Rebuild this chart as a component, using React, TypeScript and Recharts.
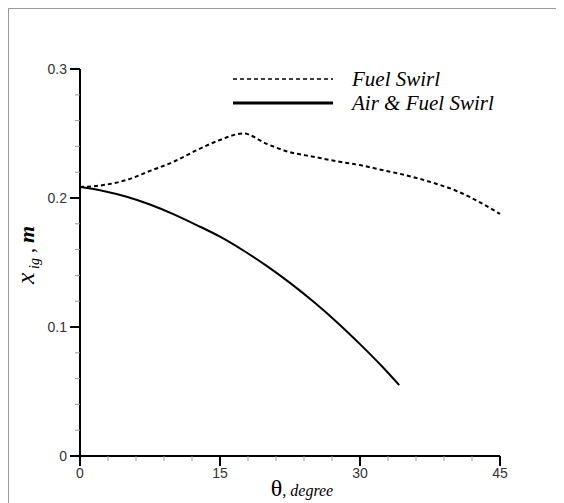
import React from "react";
import { LineChart, Line, XAxis, YAxis, Legend } from "recharts";

// values
const fuelTheta = [0, 2.5, 5, 7.5, 10, 12.5, 15, 17.5, 20, 22.5, 25, 27.5, 30, 32.5, 35, 37.5, 40, 42.5, 45];
const fuelXig = [0.2085, 0.21, 0.214, 0.221, 0.228, 0.237, 0.245, 0.25, 0.242, 0.2355, 0.232, 0.2285, 0.2255, 0.2215, 0.2175, 0.2125, 0.2065, 0.198, 0.1876];

const airTheta = [0, 2.5, 5, 7.5, 10, 12.5, 15, 17.5, 20, 22.5, 25, 27.5, 30, 32.5, 34.2];
const airXig = [0.2085, 0.2055, 0.201, 0.195, 0.1875, 0.179, 0.17, 0.1593, 0.1474, 0.1342, 0.1197, 0.1039, 0.0867, 0.0684, 0.055];

const xTicks = [0, 3, 6, 9, 12, 15, 18, 21, 24, 27, 30, 33, 36, 39, 42, 45];
const xMajor = [0, 15, 30, 45];
const yTicks = [0, 0.02, 0.04, 0.06, 0.08, 0.1, 0.12, 0.14, 0.16, 0.18, 0.2, 0.22, 0.24, 0.26, 0.28, 0.3];
const yMajor = [0, 0.1, 0.2, 0.3];

const seriesNames = ["Fuel Swirl", "Air & Fuel Swirl"];

const fuelData = fuelTheta.map((t, i) => ({ theta: t, xig: fuelXig[i] }));
const airData = airTheta.map((t, i) => ({ theta: t, xig: airXig[i] }));

const SANS = "'Liberation Sans', Arial, sans-serif";
const SERIF = "'Liberation Serif', 'Times New Roman', serif";

const isMajor = (list: number[], v: number) => list.some((m) => Math.abs(m - v) < 1e-9);

const XTick = (props: any) => {
  const { x, y, payload } = props;
  const major = isMajor(xMajor, payload.value);
  return (
    <g>
      <line
        x1={x} x2={x} y1={y} y2={y + (major ? 10 : 5)}
        stroke={major ? "#000" : "#999"}
        strokeWidth={major ? 2 : 1}
      />
      {major && (
        <text x={x} y={y + 22} textAnchor="middle" fontSize={14} fill="#333" fontFamily={SANS}>
          {payload.value}
        </text>
      )}
    </g>
  );
};

const YTick = (props: any) => {
  const { x, y, payload } = props;
  const major = isMajor(yMajor, payload.value);
  return (
    <g>
      <line
        x1={x} x2={x - (major ? 10 : 5)} y1={y} y2={y}
        stroke={major ? "#000" : "#999"}
        strokeWidth={major ? 2 : 1}
      />
      {major && (
        <text x={x - 13} y={y} dy="0.35em" textAnchor="end" fontSize={14} fill="#333" fontFamily={SANS}>
          {payload.value}
        </text>
      )}
    </g>
  );
};

const renderLegend = () => (
  <div style={{ fontFamily: SERIF, fontStyle: "italic", fontSize: 21, color: "#000" }}>
    {seriesNames.map((name, i) => (
      <div key={name} style={{ display: "flex", alignItems: "center", height: 24 }}>
        <svg width={100} height={24}>
          <line
            x1={0} x2={100} y1={12} y2={12}
            stroke="#000"
            strokeWidth={i === 0 ? 1.5 : 3}
            strokeDasharray={i === 0 ? "4 3" : undefined}
          />
        </svg>
        <span style={{ marginLeft: 19, whiteSpace: "nowrap" }}>{name}</span>
      </div>
    ))}
  </div>
);

export default function App() {
  return (
    <div
      style={{
        width: 555,
        height: 494,
        borderLeft: "1px solid #9a9a9a",
        borderTop: "1px solid #9a9a9a",
        background: "#fff",
      }}
    >
      <LineChart width={555} height={494} margin={{ top: 60, right: 64, bottom: 0, left: 0 }}>
        <XAxis
          dataKey="theta"
          type="number"
          domain={[0, 45]}
          ticks={xTicks}
          interval={0}
          height={47}
          tickSize={0}
          tickMargin={0}
          tickLine={false}
          axisLine={{ stroke: "#000", strokeWidth: 2 }}
          tick={<XTick />}
          allowDuplicatedCategory={false}
        />
        <YAxis
          type="number"
          domain={[0, 0.3]}
          ticks={yTicks}
          interval={0}
          width={71}
          tickSize={0}
          tickMargin={0}
          tickLine={false}
          axisLine={{ stroke: "#000", strokeWidth: 2 }}
          tick={<YTick />}
        />
        <Legend
          verticalAlign="middle"
          align="center"
          content={renderLegend}
          wrapperStyle={{ left: 224, top: 58, width: 320, height: 48 }}
        />
        <Line
          data={fuelData}
          dataKey="xig"
          name={seriesNames[0]}
          type="monotone"
          stroke="#000"
          strokeWidth={2}
          strokeDasharray="4 3"
          dot={false}
          activeDot={false}
          isAnimationActive={false}
        />
        <Line
          data={airData}
          dataKey="xig"
          name={seriesNames[1]}
          type="monotone"
          stroke="#000"
          strokeWidth={2}
          dot={false}
          activeDot={false}
          isAnimationActive={false}
        />
        <text x={293} y={487} textAnchor="middle" fontFamily={SERIF} fill="#000">
          <tspan fontSize={24}>θ</tspan>
          <tspan fontSize={16} fontStyle="italic">, degree</tspan>
        </text>
        <text
          transform="rotate(-90)"
          x={-246}
          y={25}
          textAnchor="middle"
          fontFamily={SERIF}
          fill="#000"
        >
          <tspan fontSize={26} fontStyle="italic">x</tspan>
          <tspan fontSize={14} fontStyle="italic" dy={5}> ig</tspan>
          <tspan fontSize={20} dy={-5}> , </tspan>
          <tspan fontSize={22} fontStyle="italic" fontWeight="bold">m</tspan>
        </text>
      </LineChart>
    </div>
  );
}
